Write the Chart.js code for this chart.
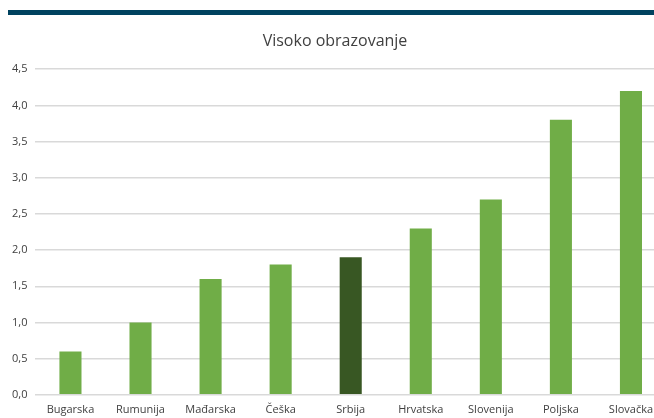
<!DOCTYPE html>
<html>
<head>
<meta charset="utf-8">
<script src="https://cdn.jsdelivr.net/npm/chart.js@4"></script>
<style>
  html, body { margin: 0; padding: 0; background: #fff; overflow: hidden; }
  body { width: 654px; height: 418px; position: relative; }
  .band { position: absolute; left: 8px; top: 10px; width: 646px; height: 5px; background: #00425f; }
  .wrap { position: absolute; left: 0; top: 28px; width: 680px; height: 388px; }
</style>
</head>
<body>
<div class="band"></div>
<div class="wrap"><canvas id="myChart"></canvas></div>
<script>
const countries = ['Bugarska', 'Rumunija', 'Mađarska', 'Češka', 'Srbija', 'Hrvatska', 'Slovenija', 'Poljska', 'Slovačka']
const values = [0.6, 1.0, 1.6, 1.8, 1.9, 2.3, 2.7, 3.8, 4.2]
const yTicks = [0, 0.5, 1, 1.5, 2, 2.5, 3, 3.5, 4, 4.5]

const green = '#70ad47'
const darkGreen = '#385723'
const barColors = countries.map(c => c === 'Srbija' ? darkGreen : green)

const ctx = document.getElementById('myChart')

const chart = new Chart(ctx, {
    type: 'bar',
    data: {
        labels: countries,
        datasets: [{
            label: 'Visoko obrazovanje',
            data: values,
            backgroundColor: barColors,
            borderWidth: 0,
            barPercentage: 0.63,
            categoryPercentage: 0.5
        }]
    },
    options: {
        responsive: true,
        maintainAspectRatio: false,
        animation: false,
        layout: { padding: { left: 4, right: 14, top: 0, bottom: 0 } },
        plugins: {
            legend: { display: false },
            tooltip: { enabled: false },
            title: {
                display: true,
                text: 'Visoko obrazovanje',
                color: '#404040',
                font: { family: 'Open Sans', size: 16, weight: 'normal' },
                padding: { top: 4, bottom: 18 }
            }
        },
        scales: {
            x: {
                grid: { display: false },
                border: { display: false },
                ticks: {
                    color: '#404040',
                    font: { family: 'Open Sans', size: 11 },
                    padding: 0,
                    maxRotation: 0
                }
            },
            y: {
                min: 0,
                max: 4.5,
                afterBuildTicks: axis => { axis.ticks = yTicks.map(v => ({ value: v })) },
                grid: { color: '#d9d9d9', lineWidth: 1.5, drawTicks: false },
                border: { display: false },
                ticks: {
                    color: '#404040',
                    font: { family: 'Open Sans', size: 11 },
                    padding: 8,
                    callback: v => v.toFixed(1).replace('.', ',')
                }
            }
        }
    }
})
</script>
</body>
</html>
